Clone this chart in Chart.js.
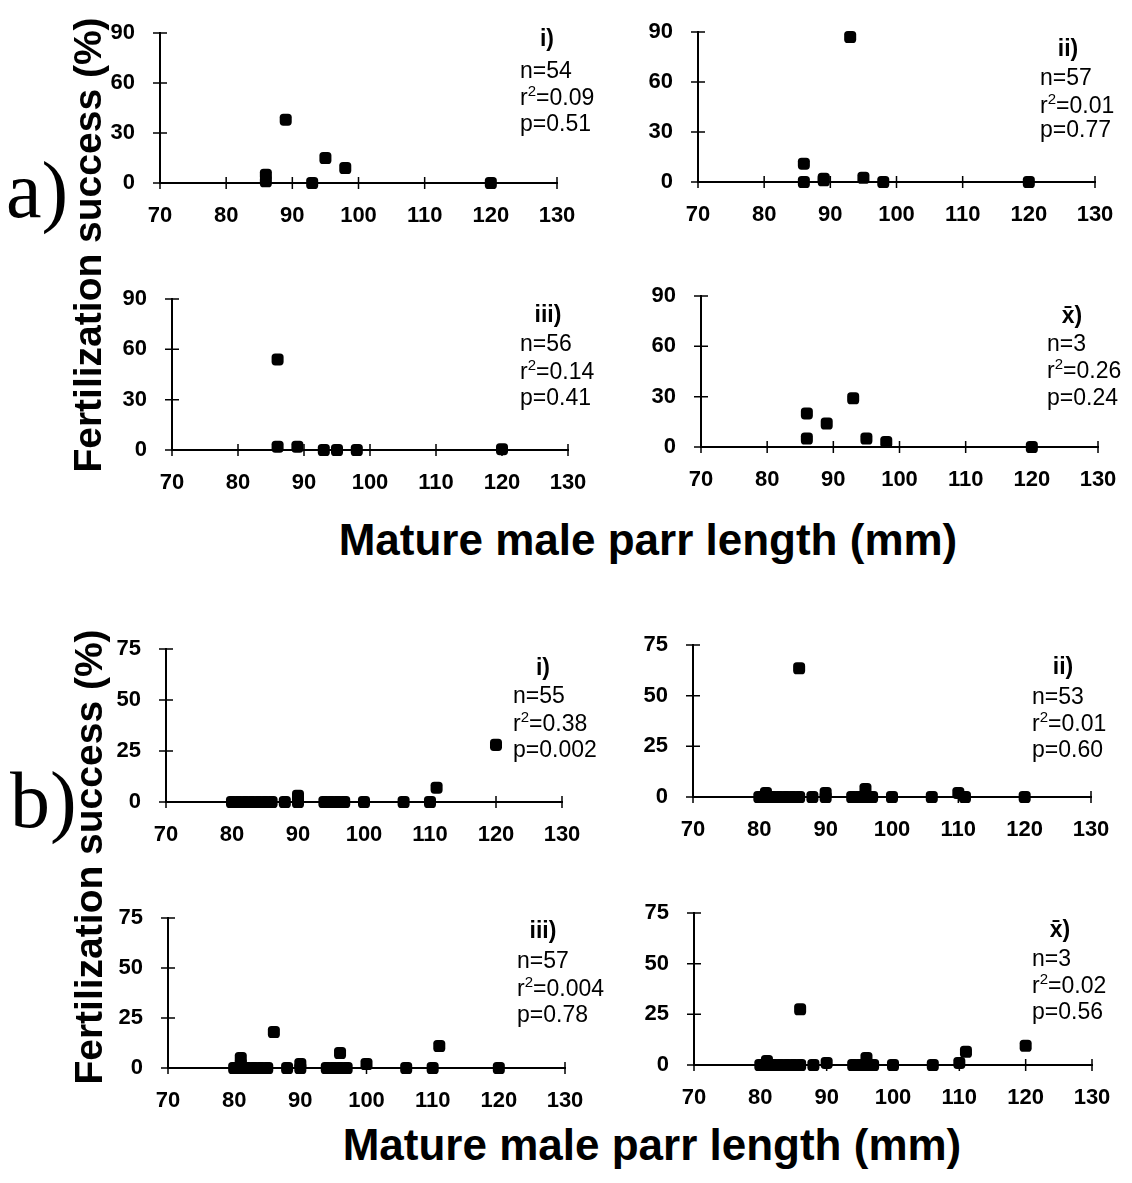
<!DOCTYPE html>
<html>
<head>
<meta charset="utf-8">
<script src="https://cdn.jsdelivr.net/npm/chart.js@4.4.1/dist/chart.umd.min.js"></script>
<style>
  html, body { margin: 0; padding: 0; background: #fff; }
  #page { position: relative; width: 1132px; height: 1183px; overflow: hidden;
          font-family: 'Liberation Sans', Arial, sans-serif; color: #000; }
  canvas { position: absolute; }
  .txt { position: absolute; white-space: nowrap; line-height: 1; }
</style>
</head>
<body>
<div id="page"></div>
<script>
// x = mature male parr length (mm), y = fertilization success (%)
const a1Length  = [86, 86, 89, 93, 95, 98, 120];
const a1Success = [5, 1, 38, 0, 15, 9, 0];

const a2Length  = [86, 86, 89, 89, 93, 95, 98, 120];
const a2Success = [11, 0, 2, 1, 87, 2.5, 0, 0];

const a3Length  = [86, 86, 89, 93, 95, 98, 120];
const a3Success = [54, 2, 2, 0, 0, 0, 0.5];

const a4Length  = [86, 86, 89, 93, 95, 98, 120];
const a4Success = [20, 5, 14, 29, 5, 3, 0];

const b1Length  = [80, 81, 82, 83, 84, 85, 86, 88, 90, 90, 94, 95, 96, 97, 100, 106, 110, 111, 120];
const b1Success = [0, 0, 0, 0, 0, 0, 0, 0, 0, 3, 0, 0, 0, 0, 0, 0, 0, 7, 28];

const b2Length  = [80, 81, 81, 82, 83, 84, 85, 86, 86, 88, 90, 90, 94, 95, 96, 96, 97, 100, 106, 110, 111, 120];
const b2Success = [0, 0, 2, 0, 0, 0, 0, 0, 63.5, 0, 0, 2, 0, 0, 0, 4, 0, 0, 0, 2, 0, 0];

const b3Length  = [80, 81, 81, 81, 82, 83, 84, 85, 86, 88, 90, 90, 94, 95, 96, 96, 97, 100, 106, 110, 111, 120];
const b3Success = [0, 0, 2, 5, 0, 0, 0, 0, 18, 0, 0, 2, 0, 0, 0, 7.5, 0, 2, 0, 0, 11, 0];

const b4Length  = [80, 81, 81, 82, 83, 84, 85, 86, 86, 88, 90, 94, 95, 96, 96, 97, 100, 106, 110, 111, 120];
const b4Success = [0, 0, 2, 0, 0, 0, 0, 0, 27.5, 0, 1, 0, 0, 0, 3.5, 0, 0, 0, 1, 6.5, 9.5];

// axis ranges
const xTicks = [70, 80, 90, 100, 110, 120, 130];
const yTicksA = [0, 30, 60, 90];
const yTicksB = [0, 25, 50, 75];

// panel labels and stats
const panelTags = ['i)', 'ii)', 'iii)', 'x\u0304)', 'i)', 'ii)', 'iii)', 'x\u0304)'];
const panelN  = ['n=54', 'n=57', 'n=56', 'n=3', 'n=55', 'n=53', 'n=57', 'n=3'];
const panelR2 = ['0.09', '0.01', '0.14', '0.26', '0.38', '0.01', '0.004', '0.02'];
const panelP  = ['p=0.51', 'p=0.77', 'p=0.41', 'p=0.24', 'p=0.002', 'p=0.60', 'p=0.78', 'p=0.56'];

const series = [
  [a1Length, a1Success], [a2Length, a2Success], [a3Length, a3Success], [a4Length, a4Success],
  [b1Length, b1Success], [b2Length, b2Success], [b3Length, b3Success], [b4Length, b4Success]
];

// layout: plot area boxes [left, top, right, bottom] on the page
const boxes = [
  [160, 33, 557, 183], [698, 32, 1095, 182],
  [172, 299, 568, 450], [701, 296, 1098, 447],
  [166, 649, 562, 802], [693, 645, 1091, 797],
  [168, 918, 565, 1068], [694, 913, 1092, 1065]
];
// stats text: [tag centre x, n-line left x, tag y, n y, r2 y, p y]
const statPos = [
  [547, 520, 38, 70, 97, 123],
  [1068, 1040, 48, 77, 105, 129],
  [548, 520, 314, 343, 371, 397],
  [1072, 1047, 315, 343, 370, 397],
  [543, 513, 667, 695, 723, 749],
  [1063, 1032, 666, 696, 723, 749],
  [543, 517, 930, 960, 988, 1014],
  [1060, 1032, 929, 958, 985, 1011]
];

const PADL = 70, PADT = 40, PADR = 45, PADB = 45;
const page = document.getElementById('page');

// tick marks that cross the axis lines
const crossTicks = {
  id: 'crossTicks',
  beforeDatasetsDraw(chart) {
    const {ctx, scales: {x, y}} = chart;
    ctx.save();
    ctx.strokeStyle = '#000';
    ctx.lineWidth = 1.5;
    ctx.beginPath();
    x.ticks.forEach(t => {
      const px = x.getPixelForValue(t.value);
      ctx.moveTo(px, y.bottom - 6); ctx.lineTo(px, y.bottom + 6);
    });
    y.ticks.forEach(t => {
      const py = y.getPixelForValue(t.value);
      ctx.moveTo(x.left - 7, py); ctx.lineTo(x.left + 7, py);
    });
    ctx.stroke();
    ctx.restore();
  }
};

function addText(str, left, top, css) {
  const d = document.createElement('div');
  d.className = 'txt';
  d.innerHTML = str;
  d.style.left = left + 'px';
  d.style.top = top + 'px';
  Object.assign(d.style, css || {});
  page.appendChild(d);
  return d;
}

series.forEach((s, i) => {
  const [L, T, R, B] = boxes[i];
  const cv = document.createElement('canvas');
  cv.width = R - L + PADL + PADR;
  cv.height = B - T + PADT + PADB;
  cv.style.left = (L - PADL) + 'px';
  cv.style.top = (T - PADT) + 'px';
  page.appendChild(cv);

  const yt = i < 4 ? yTicksA : yTicksB;
  const tickFont = {family: "'Liberation Sans', Arial, sans-serif", size: 22, weight: 'bold'};

  new Chart(cv, {
    type: 'scatter',
    data: {
      datasets: [{
        data: s[0].map((v, k) => ({x: v, y: s[1][k]})),
        pointStyle: 'rectRounded',
        pointRadius: 7,
        pointHoverRadius: 7,
        backgroundColor: '#000',
        borderColor: '#000',
        borderWidth: 0,
        clip: false
      }]
    },
    options: {
      responsive: false,
      animation: false,
      events: [],
      layout: {padding: {left: 0, top: PADT, right: PADR, bottom: 0}},
      plugins: {legend: {display: false}, tooltip: {enabled: false}, title: {display: false}},
      scales: {
        x: {
          type: 'linear',
          min: xTicks[0], max: xTicks[xTicks.length - 1],
          afterFit: (sc) => { sc.height = PADB; },
          afterBuildTicks: (sc) => { sc.ticks = xTicks.map(v => ({value: v})); },
          grid: {display: false, drawTicks: false},
          border: {display: true, color: '#000', width: 2},
          ticks: {color: '#000', font: tickFont, padding: 20, maxRotation: 0, autoSkip: false}
        },
        y: {
          type: 'linear',
          min: yt[0], max: yt[yt.length - 1],
          afterFit: (sc) => { sc.width = PADL; },
          afterBuildTicks: (sc) => { sc.ticks = yt.map(v => ({value: v})); },
          grid: {display: false, drawTicks: false},
          border: {display: true, color: '#000', width: 2},
          ticks: {color: '#000', font: tickFont, padding: 25}
        }
      }
    },
    plugins: [crossTicks]
  });

  const p = statPos[i];
  const statCss = {fontSize: '23px', transform: 'translateY(-50%)'};
  addText(panelTags[i], p[0], p[2], {fontSize: '23px', fontWeight: 'bold', transform: 'translate(-50%,-50%)'});
  addText(panelN[i], p[1], p[3], statCss);
  addText('r<sup style="font-size:15px;vertical-align:9px;line-height:0">2</sup>=' + panelR2[i], p[1], p[4], statCss);
  addText(panelP[i], p[1], p[5], statCss);
});

// axis titles and group letters
const yTitle = 'Fertilization success (%)';
const xTitle = 'Mature male parr length (mm)';
const rotCss = {fontSize: '39px', fontWeight: 'bold', transform: 'translate(-50%,-50%) rotate(-90deg)'};
addText(yTitle, 87, 245, rotCss);
addText(yTitle, 88, 857, rotCss);
const xCss = {fontSize: '44px', fontWeight: 'bold', transform: 'translate(-50%,-50%)'};
addText(xTitle, 648, 540, xCss);
addText(xTitle, 652, 1145, xCss);
const letterCss = {fontFamily: "'Liberation Serif', serif", fontSize: '80px', transform: 'translateY(-50%)'};
addText('a)', 6, 190, letterCss);
addText('b)', 10, 800, letterCss);
</script>
</body>
</html>
